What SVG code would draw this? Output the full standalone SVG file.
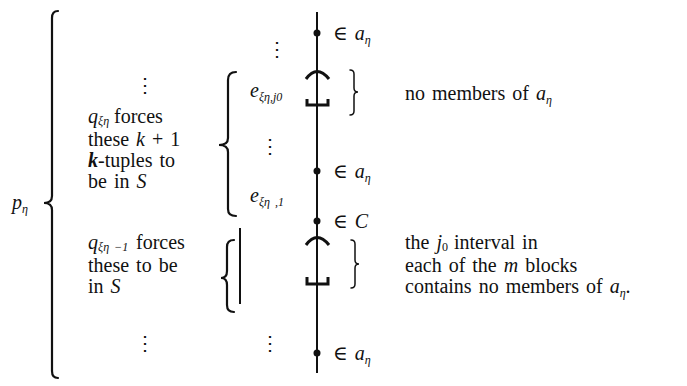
<svg xmlns="http://www.w3.org/2000/svg" width="687" height="386" viewBox="0 0 687 386">
<style>
text{font-family:"Liberation Serif","DejaVu Serif",serif;font-size:20px;fill:#111;word-spacing:2px}
.i{font-style:italic}
.s{font-size:12px}
.br{fill:none;stroke:#111;stroke-width:2.2;stroke-linecap:round}
.bt{fill:none;stroke:#111;stroke-width:1.5;stroke-linecap:round}
.ln{stroke:#111;stroke-width:2}
.sym{fill:none;stroke:#111;stroke-width:3}
</style>
<rect width="687" height="386" fill="#fff"/>
<g id="connectors">
<line class="ln" x1="317" y1="12" x2="317" y2="373"/>
</g>
<g id="p-eta">
<text x="12" y="209" class="i">p<tspan class="s" dy="4">η</tspan></text>
<path class="br" d="M58,11 Q52,11 52,18 L52,196 Q52,203 44,203 Q52,203 52,210 L52,371 Q52,378 58,378"/>
</g>
<g id="left-block1">
<text x="135" y="92">⋮</text>
<text x="88" y="123" class="i">q<tspan class="s" dy="2">ξη</tspan></text>
<text x="114" y="123">forces</text>
<text x="88" y="146">these <tspan class="i">k</tspan> + 1</text>
<text x="88" y="167"><tspan class="i" font-weight="bold">k</tspan>-tuples to</text>
<text x="88" y="188">be in <tspan class="i">S</tspan></text>
<path class="br" d="M236,72 Q228,72 228,80 L228,138 Q228,145 219,145 Q228,145 228,152 L228,209 Q228,216 236,216"/>
</g>
<g id="left-block2">
<text x="88" y="249" class="i">q<tspan class="s" dy="2">ξη −1</tspan></text>
<text x="136" y="249">forces</text>
<text x="88" y="272">these to be</text>
<text x="88" y="293">in <tspan class="i">S</tspan></text>
<path class="br" d="M234,240 Q227,240 227,247 L227,271 Q227,278 221,278 Q227,278 227,285 L227,305 Q227,312 234,312"/>
<line class="ln" x1="240" y1="228" x2="240" y2="304"/>
<text x="135" y="350">⋮</text>
<text x="260" y="350">⋮</text>
</g>
<g id="e-labels">
<text x="267" y="56">⋮</text>
<text x="250" y="97" class="i">e<tspan class="s" dy="4">ξη,j0</tspan></text>
<text x="260" y="153">⋮</text>
<text x="250" y="202" class="i">e<tspan class="s" dy="4">ξη ,1</tspan></text>
</g>
<g id="points">
<circle cx="317" cy="33" r="3.5" fill="#111"/>
<text x="333" y="40">∈ <tspan class="i">a</tspan><tspan class="s i" dy="4">η</tspan></text>
<circle cx="317" cy="171" r="3.5" fill="#111"/>
<text x="333" y="178">∈ <tspan class="i">a</tspan><tspan class="s i" dy="4">η</tspan></text>
<circle cx="317" cy="221" r="3.5" fill="#111"/>
<text x="333" y="228">∈ <tspan class="i">C</tspan></text>
<circle cx="317" cy="353" r="3.5" fill="#111"/>
<text x="333" y="360">∈ <tspan class="i">a</tspan><tspan class="s i" dy="4">η</tspan></text>
</g>
<g id="interval1">
<path class="sym" d="M306,79 Q317,64 329,79"/>
<path class="sym" d="M307,99 L307,105 L328,105 L328,99"/>
<path class="bt" d="M350,70 Q354,70 354,74 L354,88 Q354,92 358,92 Q354,92 354,96 L354,111 Q354,115 350,115"/>
<text x="405" y="100">no members of <tspan class="i">a</tspan><tspan class="s i" dy="4">η</tspan></text>
</g>
<g id="interval2">
<path class="sym" d="M306,245 Q317,230 329,245"/>
<path class="sym" d="M307,277 L307,284 L328,284 L328,277"/>
<path class="bt" d="M351,240 Q355,240 355,244 L355,260 Q355,264 359,264 Q355,264 355,268 L355,284 Q355,288 351,288"/>
<text x="405" y="249">the <tspan class="i">j</tspan><tspan class="s" dy="2">0</tspan></text>
<text x="454" y="249">interval in</text>
<text x="405" y="272">each of the <tspan class="i">m</tspan> blocks</text>
<text x="405" y="293">contains no members of <tspan class="i">a</tspan><tspan class="s i" dy="4">η</tspan><tspan dy="-4">.</tspan></text>
</g>
</svg>
